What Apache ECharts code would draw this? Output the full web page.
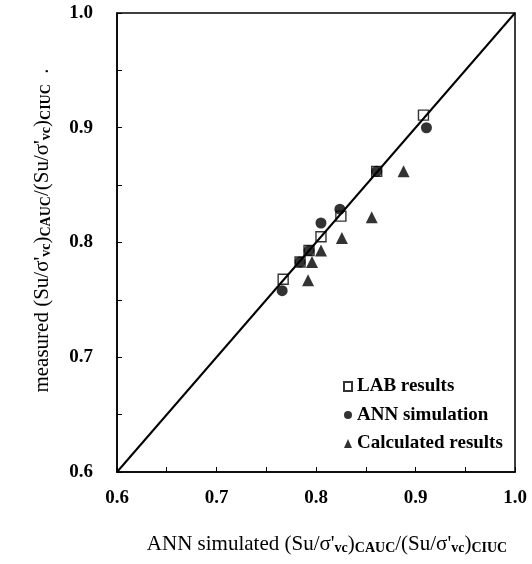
<!DOCTYPE html>
<html>
<head>
<meta charset="utf-8">
<script src="https://cdn.jsdelivr.net/npm/echarts@6/dist/echarts.min.js"></script>
<style>
  html, body { margin: 0; padding: 0; background: #fff; }
  #chart { width: 532px; height: 564px; }
</style>
</head>
<body>
<div id="chart"></div>
<script>
// LAB results (open squares)
const labX = [0.767, 0.784, 0.793, 0.805, 0.825, 0.861, 0.908]
const labY = [0.768, 0.783, 0.793, 0.805, 0.823, 0.862, 0.911]
// ANN simulation (filled circles)
const annX = [0.766, 0.784, 0.793, 0.805, 0.824, 0.861, 0.911]
const annY = [0.758, 0.783, 0.793, 0.817, 0.829, 0.862, 0.900]
// Calculated results (filled triangles)
const calcX = [0.792, 0.796, 0.805, 0.826, 0.856, 0.888]
const calcY = [0.767, 0.783, 0.793, 0.804, 0.822, 0.862]
// 1:1 line
const lineX = [0.6, 1.0]
const lineY = [0.6, 1.0]

const seriesNames = ['LAB results', 'ANN simulation', 'Calculated results']

function pairs (xs, ys) {
  return xs.map(function (x, i) {
    return [x, ys[i]]
  })
}

const font = 'Liberation Serif'
const subStyle = { fontSize: 14, fontFamily: font, fontWeight: 'bold', verticalAlign: 'bottom', lineHeight: 14, color: '#000' }
const ratio = "(Su/σ'{s|vc}){s|CAUC}/(Su/σ'{s|vc}){s|CIUC}"

const chart = echarts.init(document.getElementById('chart'))
const option = {
  animation: false,
  backgroundColor: '#fff',
  grid: {
    left: 117,
    right: 17,
    top: 13,
    bottom: 92,
    show: true,
    borderColor: '#000',
    borderWidth: 1.5
  },
  legend: {
    orient: 'vertical',
    left: 338,
    top: 372,
    itemWidth: 8,
    itemHeight: 9,
    itemGap: 9.5,
    data: seriesNames,
    textStyle: {
      fontFamily: font,
      fontSize: 19,
      fontWeight: 'bold',
      color: '#000',
      lineHeight: 19
    }
  },
  xAxis: {
    type: 'value',
    min: 0.6,
    max: 1.0,
    interval: 0.1,
    name: 'ANN simulated ' + ratio,
    nameLocation: 'middle',
    nameGap: 61,
    nameTextStyle: {
      fontFamily: font,
      fontSize: 21,
      color: '#000',
      lineHeight: 22,
      padding: [0, 0, 0, 22],
      rich: { s: subStyle }
    },
    axisLine: { lineStyle: { color: '#000', width: 1.5 } },
    axisTick: { inside: true, length: 5, lineStyle: { color: '#000' } },
    minorTick: { show: true, splitNumber: 2, length: 5, lineStyle: { color: '#000' } },
    splitLine: { show: false },
    axisLabel: {
      margin: 17,
      fontFamily: font,
      fontSize: 19,
      fontWeight: 'bold',
      color: '#000',
      formatter: function (v) { return v.toFixed(1) }
    }
  },
  yAxis: {
    type: 'value',
    min: 0.6,
    max: 1.0,
    interval: 0.1,
    name: 'measured ' + ratio + '  .',
    nameLocation: 'middle',
    nameGap: 64,
    nameTextStyle: {
      fontFamily: font,
      fontSize: 21,
      color: '#000',
      lineHeight: 22,
      padding: [0, 0, 0, 24],
      rich: { s: subStyle }
    },
    axisLine: { lineStyle: { color: '#000', width: 1.5 } },
    axisTick: { inside: true, length: 5, lineStyle: { color: '#000' } },
    minorTick: { show: true, splitNumber: 2, length: 5, lineStyle: { color: '#000' } },
    splitLine: { show: false },
    axisLabel: {
      margin: 24,
      fontFamily: font,
      fontSize: 19,
      fontWeight: 'bold',
      color: '#000',
      formatter: function (v) { return v.toFixed(1) }
    }
  },
  series: [{
    type: 'line',
    data: pairs(lineX, lineY),
    showSymbol: false,
    silent: true,
    z: 1,
    lineStyle: { color: '#000', width: 2 }
  }, {
    name: seriesNames[1],
    type: 'scatter',
    data: pairs(annX, annY),
    symbol: 'circle',
    symbolSize: 11,
    z: 2,
    itemStyle: { color: '#000' }
  }, {
    name: seriesNames[2],
    type: 'scatter',
    data: pairs(calcX, calcY),
    symbol: 'triangle',
    symbolSize: 12,
    z: 2,
    itemStyle: { color: '#000' }
  }, {
    name: seriesNames[0],
    type: 'scatter',
    data: pairs(labX, labY),
    symbol: 'rect',
    symbolSize: 10,
    z: 3,
    itemStyle: { color: 'rgba(0,0,0,0)', borderColor: '#000', borderWidth: 1.4 }
  }]
}
chart.setOption(option)
</script>
</body>
</html>
